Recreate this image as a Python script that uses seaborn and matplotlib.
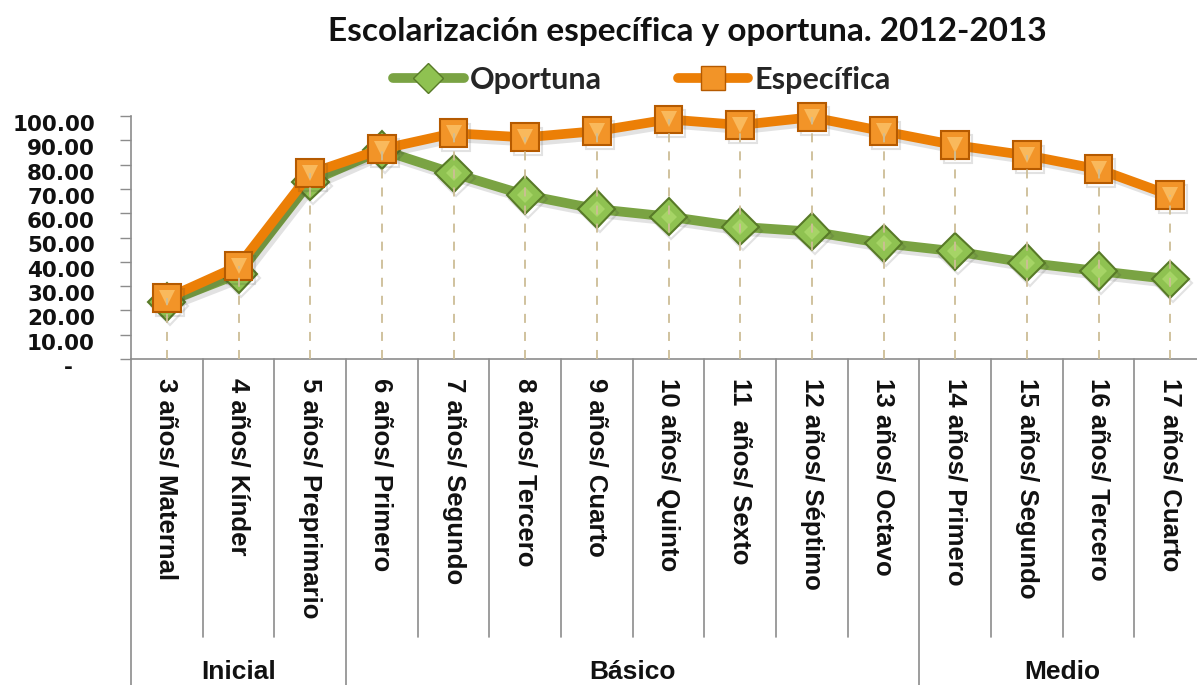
import matplotlib
matplotlib.use("Agg")
import matplotlib.pyplot as plt
import matplotlib.transforms as mtransforms
import matplotlib.patheffects as pe
from matplotlib.lines import Line2D
import seaborn as sns
import pandas as pd
import numpy as np

# Data
categorias = ["3 años/ Maternal", "4 años/ Kínder", "5 años/ Preprimario",
              "6 años/ Primero", "7 años/ Segundo", "8 años/ Tercero",
              "9 años/ Cuarto", "10 años/ Quinto", "11  años/ Sexto",
              "12 años/ Séptimo", "13 años/ Octavo", "14 años/ Primero",
              "15 años/ Segundo", "16 años/ Tercero", "17 años/ Cuarto"]
oportuna = [23.5, 35.0, 73.0, 86.0, 76.4, 67.5, 61.7, 58.6, 54.4,
            52.4, 47.6, 44.3, 39.6, 36.2, 32.8]
especifica = [25.0, 38.3, 76.4, 86.4, 92.9, 91.2, 93.8, 98.6, 96.3,
              99.5, 93.7, 88.0, 83.8, 78.1, 67.4]
niveles = ["Inicial", "Básico", "Medio"]
niveles_n = [3, 8, 4]
y_ticks = [0, 10, 20, 30, 40, 50, 60, 70, 80, 90, 100]
y_labels = ["-   ", "10.00", "20.00", "30.00", "40.00", "50.00", "60.00",
            "70.00", "80.00", "90.00", "100.00"]

sns.set_theme(style="white")
plt.rcParams["font.family"] = ["DejaVu Sans"]

W, H = 1197, 685
fig = plt.figure(figsize=(W / 100, H / 100), dpi=100)
ax_left, ax_right, ax_bottom, ax_top = 131, 1206, 359, 116
ax = fig.add_axes([ax_left / W, 1 - ax_bottom / H,
                   (ax_right - ax_left) / W, (ax_bottom - ax_top) / H])

df = pd.DataFrame({"x": np.arange(len(categorias)),
                   "Oportuna": oportuna, "Específica": especifica})

green_line, green_face, green_edge = "#7aa343", "#8fc251", "#587a28"
orange_line, orange_face, orange_edge = "#ec7f06", "#f29428", "#b55a00"
drop_col = "#cdbd96"

shadow = [pe.SimpleLineShadow(offset=(2, -3), alpha=0.14, shadow_color="#333"),
          pe.Normal()]

sns.lineplot(data=df, x="x", y="Oportuna", ax=ax, color=green_line,
             linewidth=7, marker="D", markersize=19,
             markerfacecolor=green_face, markeredgecolor=green_edge,
             markeredgewidth=1.5, zorder=3, path_effects=shadow, clip_on=False)
sns.lineplot(data=df, x="x", y="Específica", ax=ax, color=orange_line,
             linewidth=7, marker="s", markersize=20,
             markerfacecolor=orange_face, markeredgecolor=orange_edge,
             markeredgewidth=1.5, zorder=4, path_effects=shadow, clip_on=False)

# bevel highlight on the markers
ax.plot(df["x"], df["Específica"], linestyle="none", marker="v",
        markersize=11, markerfacecolor="#f9b95c", markeredgewidth=0,
        zorder=5, clip_on=False)
ax.plot(df["x"], df["Oportuna"], linestyle="none", marker="D",
        markersize=8, markerfacecolor="#a6d466", markeredgewidth=0,
        zorder=3.5, clip_on=False)

# drop lines from the highest series down to the axis
tops = np.maximum(df["Oportuna"], df["Específica"])
ax.vlines(df["x"], 0, tops, colors=drop_col, linestyles=(0, (5, 5)),
          linewidth=1.3, zorder=6)

ax.set_xlim(-0.5, len(categorias) - 0.5)
ax.set_ylim(0, 100)
ax.set_xlabel("")
ax.set_ylabel("")

ax.set_yticks(y_ticks)
ax.set_yticklabels(y_labels, fontsize=15.5, fontweight="bold",
                   color="#111111")
ax.tick_params(axis="y", direction="out", length=8, width=1,
               color="#8c8c8c", pad=18, left=True)
offset = mtransforms.ScaledTranslation(0, -5 / 72, fig.dpi_scale_trans)
for lab in ax.get_yticklabels():
    lab.set_transform(lab.get_transform() + offset)

ax.set_xticks(df["x"])
ax.set_xticklabels(categorias, rotation=270, fontsize=18.5,
                   family="Liberation Sans", fontweight="bold",
                   color="#111111")
ax.tick_params(axis="x", length=0, pad=14)

for side in ["top", "right"]:
    ax.spines[side].set_visible(False)
for side in ["left", "bottom"]:
    ax.spines[side].set_color("#8c8c8c")
    ax.spines[side].set_linewidth(1.2)

# category table under the axis
sep_short = (ax_bottom - 637) / (ax_bottom - ax_top)
sep_long = (ax_bottom - H - 5) / (ax_bottom - ax_top)
trans = mtransforms.blended_transform_factory(ax.transData, ax.transAxes)
group_edges = np.concatenate([[0], np.cumsum(niveles_n)]) - 0.5
for b in np.arange(len(categorias) + 1) - 0.5:
    y_end = sep_long if b in group_edges else sep_short
    ax.add_line(Line2D([b, b], [0, y_end], transform=trans, color="#8c8c8c",
                       linewidth=1.2, clip_on=False))
y_group = (ax_bottom - 672) / (ax_bottom - ax_top)
for name, lo, hi in zip(niveles, group_edges[:-1], group_edges[1:]):
    ax.text((lo + hi) / 2, y_group, name, transform=trans, ha="center",
            va="center", fontsize=19, fontweight="bold",
            family="Liberation Sans", color="#111111")

# title and legend
fig.text(687 / W, 1 - 32 / H, "Escolarización específica y oportuna. 2012-2013",
         ha="center", va="center", fontsize=24, fontweight="bold",
         family="Lato", color="#111111")

handles = [
    Line2D([], [], color=green_line, linewidth=7, marker="D", markersize=15,
           markerfacecolor=green_face, markeredgecolor=green_edge),
    Line2D([], [], color=orange_line, linewidth=7, marker="s", markersize=17,
           markerfacecolor=orange_face, markeredgecolor=orange_edge),
]
fig.legend(handles, ["Oportuna", "Específica"], loc="center",
           bbox_to_anchor=(642 / W, 1 - 80 / H), ncol=2, frameon=False,
           handlelength=2.3, handletextpad=0.2, columnspacing=2.5,
           prop={"family": "Lato", "weight": "bold", "size": 22})

fig.savefig("out.png", dpi=100, facecolor="white")
